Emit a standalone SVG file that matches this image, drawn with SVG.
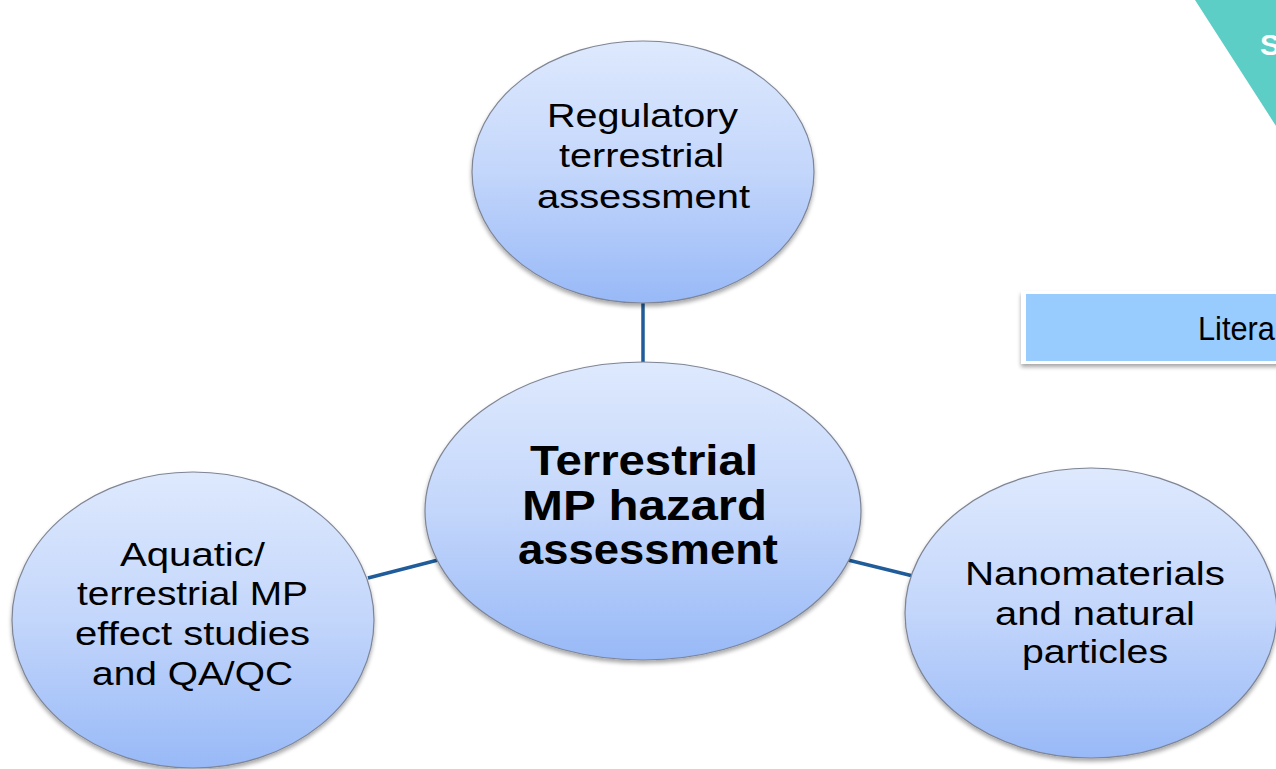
<svg xmlns="http://www.w3.org/2000/svg" width="1276" height="769" viewBox="0 0 1276 769">
  <defs>
    <linearGradient id="bubble" x1="0" y1="0" x2="0" y2="1">
      <stop offset="0" stop-color="#dee9fd"/>
      <stop offset="0.5" stop-color="#c3d6fb"/>
      <stop offset="1" stop-color="#98b9f7"/>
    </linearGradient>
    <filter id="shadow" x="-10%" y="-10%" width="120%" height="130%">
      <feGaussianBlur in="SourceAlpha" stdDeviation="2"/>
      <feOffset dx="0" dy="3" result="b"/>
      <feComponentTransfer><feFuncA type="linear" slope="0.35"/></feComponentTransfer>
      <feMerge><feMergeNode/><feMergeNode in="SourceGraphic"/></feMerge>
    </filter>
  </defs>
  <style>
    .node { fill: url(#bubble); stroke: #7f8595; stroke-width: 1.2; filter: url(#shadow); }
    .lbl { font-family: "Liberation Sans", Arial, sans-serif; font-size: 34px; fill: #000; }
    .lblb { font-family: "Liberation Sans", Arial, sans-serif; font-size: 42px; font-weight: bold; fill: #000; }
    .conn { stroke: #1f5c99; stroke-width: 3.5; fill: none; }
  </style>
  <rect width="1276" height="769" fill="#ffffff"/>

  <g id="corner-banner">
    <polygon points="1195,0 1276,0 1276,126" fill="#5ccec5"/>
    <text x="1260" y="55" font-family="Liberation Sans, Arial, sans-serif" font-size="30" font-weight="bold" fill="#ffffff">S</text>
  </g>

  <g id="literature-box">
    <rect x="1021" y="291" width="262" height="73" fill="#ffffff" filter="url(#shadow)"/>
    <rect x="1026" y="294" width="257" height="67" fill="#99ccfe"/>
    <text class="lbl" x="1198" y="340" textLength="77" lengthAdjust="spacingAndGlyphs">Litera</text>
  </g>

  <g id="connectors">
    <line class="conn" x1="643" y1="303" x2="643" y2="363"/>
    <line class="conn" x1="368" y1="578" x2="438" y2="560"/>
    <line class="conn" x1="848" y1="560" x2="913" y2="576"/>
  </g>

  <g id="node-regulatory">
    <ellipse class="node" cx="643" cy="172" rx="171" ry="131"/>
    <text class="lbl" x="547" y="127" textLength="191" lengthAdjust="spacingAndGlyphs">Regulatory</text>
    <text class="lbl" x="559" y="167" textLength="165" lengthAdjust="spacingAndGlyphs">terrestrial</text>
    <text class="lbl" x="537" y="208" textLength="213" lengthAdjust="spacingAndGlyphs">assessment</text>
  </g>

  <g id="node-center">
    <ellipse class="node" cx="643" cy="511" rx="218" ry="149"/>
    <text class="lblb" x="530" y="475" textLength="228" lengthAdjust="spacingAndGlyphs">Terrestrial</text>
    <text class="lblb" x="522" y="520" textLength="245" lengthAdjust="spacingAndGlyphs">MP hazard</text>
    <text class="lblb" x="518" y="564" textLength="260" lengthAdjust="spacingAndGlyphs">assessment</text>
  </g>

  <g id="node-aquatic">
    <ellipse class="node" cx="193" cy="620" rx="181" ry="148"/>
    <text class="lbl" x="120" y="566" textLength="145" lengthAdjust="spacingAndGlyphs">Aquatic/</text>
    <text class="lbl" x="77" y="605" textLength="231" lengthAdjust="spacingAndGlyphs">terrestrial MP</text>
    <text class="lbl" x="75" y="645" textLength="235" lengthAdjust="spacingAndGlyphs">effect studies</text>
    <text class="lbl" x="92" y="685" textLength="201" lengthAdjust="spacingAndGlyphs">and QA/QC</text>
  </g>

  <g id="node-nano">
    <ellipse class="node" cx="1091" cy="613" rx="186" ry="145"/>
    <text class="lbl" x="965" y="585" textLength="260" lengthAdjust="spacingAndGlyphs">Nanomaterials</text>
    <text class="lbl" x="995" y="625" textLength="200" lengthAdjust="spacingAndGlyphs">and natural</text>
    <text class="lbl" x="1022" y="663" textLength="146" lengthAdjust="spacingAndGlyphs">particles</text>
  </g>
</svg>
